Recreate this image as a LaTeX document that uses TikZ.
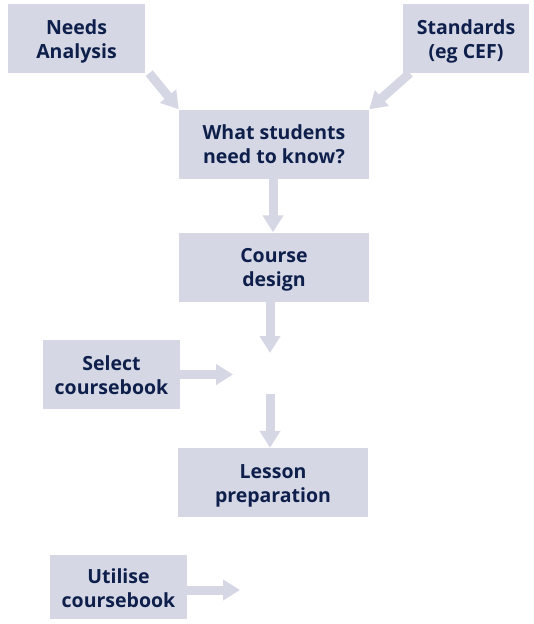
\documentclass[tikz,border=0pt]{standalone}
\usepackage{fontspec}
\setmainfont{Open Sans}
\usetikzlibrary{positioning,arrows.meta}
\definecolor{boxfill}{HTML}{D5D7E5}
\definecolor{boxtext}{HTML}{0D1F4A}
\def\boxwd{190pt}

\begin{document}
\begin{tikzpicture}[x=1pt,y=-1pt]
	\tikzstyle{box}=[fill=boxfill,text=boxtext,align=center,inner sep=0pt,text height=54pt,text depth=15pt,font=\fontsize{19.5}{24}\selectfont\bfseries]
	\tikzstyle{side box}=[box,minimum width=137pt]
	\tikzstyle{main box}=[box,minimum width=\boxwd]
	\tikzstyle{flow}=[draw=boxfill,line width=9pt,-{Triangle[width=20pt,length=17pt]}]

	\useasboundingbox (0,0) rectangle (533,624);

	% Draw the input boxes
	\node[side box] (Needs) at (76.5,38.5) {Needs\\Analysis};
	\node[side box, minimum width=126pt] (Std) at (466,38.5) {Standards\\(eg CEF)};

	% Draw the main column
	\node[main box] (Know) at (274,144) {What students\\need to know?};
	\node[main box] (Design) at (274,267) {Course\\design};
	\node[main box] (Lesson) at (273,482.5) {Lesson\\preparation};

	% Draw the coursebook boxes
	\node[side box] (Select) at (111.5,374.5) {Select\\coursebook};
	\node[side box, text height=52pt, text depth=12pt] (Use) at (118.5,587) {Utilise\\coursebook};

	% Free ends of the arrows
	\coordinate (D-end) at (270,353);
	\coordinate (S-end) at (233,374.5);
	\coordinate (L-start) at (270,394);
	\coordinate (U-end) at (240,590);

	% Connect the boxes
	\draw[flow] (Needs.south east) ++(4,0) coordinate (N-start) -- (Know.north west);
	\draw[flow] (Std.south west) ++(7,0) coordinate (St-start) -- (Know.north east);
	\draw[flow] (Know.south -| 273,0) -- (Design.north -| 273,0);
	\draw[flow] (Design.south -| D-end) -- (D-end);
	\draw[flow] (Select.east) -- (S-end);
	\draw[flow] (L-start) -- (Lesson.north -| L-start);
	\draw[flow] (Use.east |- U-end) -- (U-end);

\end{tikzpicture}
\end{document}
